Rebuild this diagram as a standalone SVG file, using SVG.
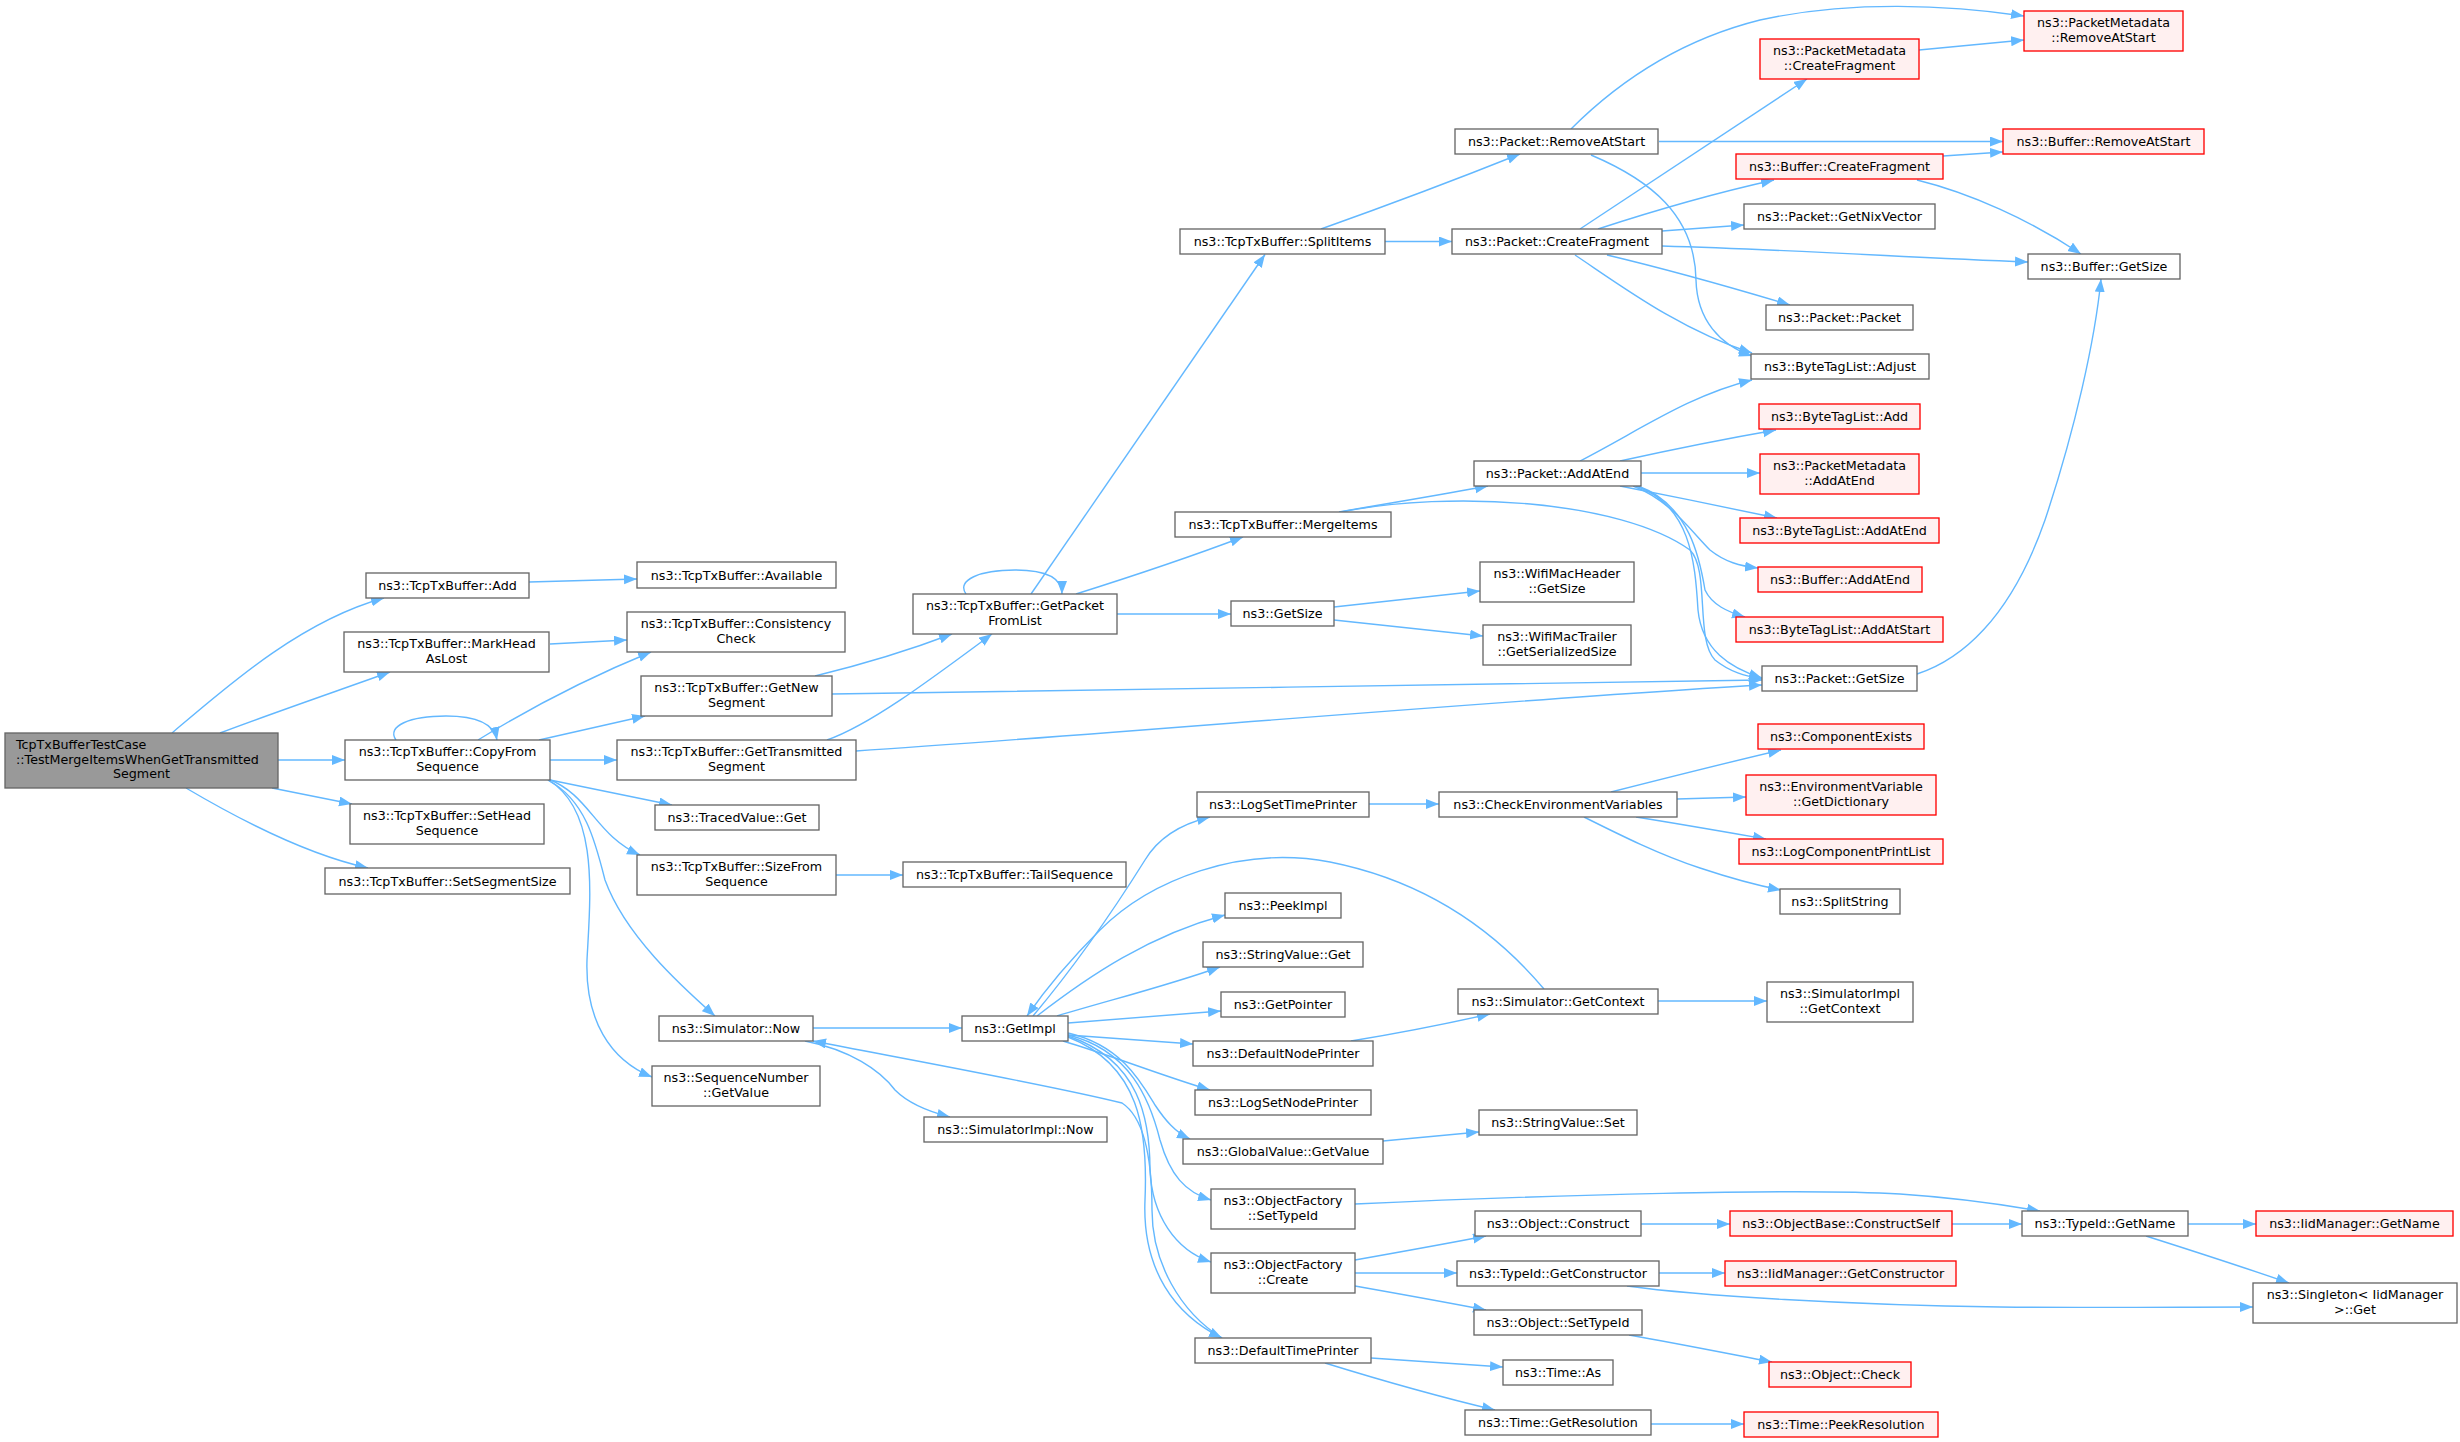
<svg xmlns="http://www.w3.org/2000/svg" width="2460" height="1442" viewBox="0 0 2460 1442">
<style>
text{font-family:"DejaVu Sans","Liberation Sans",sans-serif;font-size:12.7px;text-anchor:middle;fill:#000}
.n rect{fill:#fff;stroke:#666;stroke-width:1.33}
.r rect{fill:#fff0f0;stroke:#f00;stroke-width:1.33}
.m rect{fill:#999;stroke:#666;stroke-width:1.33}
#edges path{fill:none;stroke:#63b8ff;stroke-width:1.4;marker-end:url(#ah)}
</style>
<defs>
<marker id="ah" markerUnits="userSpaceOnUse" markerWidth="14" markerHeight="11" refX="13" refY="5" orient="auto"><path d="M0,0 L13,5 L0,10 z" fill="#63b8ff"/></marker>
</defs>
<rect width="2460" height="1442" fill="#fff"/>
<g id="edges">
<path d="M172,733 C225,688 300,621 384,598"/>
<path d="M220,733 C270,714 340,690 390,672"/>
<path d="M278,760 L345,760"/>
<path d="M272,788 L352,804"/>
<path d="M186,788 C230,814 300,853 368,868"/>
<path d="M529,582 L637,579"/>
<path d="M550,644 L627,640"/>
<path d="M396,740 C386,726 410,716 446,716 C476,716 494,724 497,740"/>
<path d="M478,740 C530,708 590,677 651,652"/>
<path d="M539,740 L645,716"/>
<path d="M550,760 L617,760"/>
<path d="M550,780 L672,805"/>
<path d="M548,779 C590,795 595,835 640,855"/>
<path d="M548,780 C585,800 595,840 605,880 C625,935 680,985 715,1016"/>
<path d="M548,780 C600,810 590,900 587,960 C585,1020 610,1060 652,1077"/>
<path d="M815,676 C860,665 910,650 952,634"/>
<path d="M832,694 C1100,690 1500,684 1762,680"/>
<path d="M827,740 C870,725 930,680 992,634"/>
<path d="M856,751 C1100,735 1500,700 1762,685"/>
<path d="M966,594 C956,580 980,570 1015,570 C1045,570 1062,578 1062,594"/>
<path d="M1031,594 L1265,254.5"/>
<path d="M1076,594 C1130,577 1190,557 1243,537"/>
<path d="M1117,614 L1231,614"/>
<path d="M836,875 L903,875"/>
<path d="M813,1028 L962,1028"/>
<path d="M805,1041 C850,1050 880,1070 895,1090 C910,1105 930,1112 950,1117"/>
<path d="M1222,1338 C1180,1312 1152,1262 1152,1210 C1152,1160 1145,1118 1122,1103 C1050,1085 900,1058 813,1041"/>
<path d="M1321,229 C1380,208 1460,178 1520,154"/>
<path d="M1385,241.5 L1452,241.5"/>
<path d="M1339,512 C1390,503 1440,495 1488,486"/>
<path d="M1341,512 C1450,490 1620,500 1690,550 C1710,570 1695,640 1715,660 C1730,672 1745,676 1762,679"/>
<path d="M1334,607 L1480,591"/>
<path d="M1334,620 L1483,636"/>
<path d="M1571,129 C1620,80 1680,40 1760,20 C1850,0 1950,5 2024,16"/>
<path d="M1659,141.5 L2003,141.5"/>
<path d="M1591,155 C1650,180 1695,215 1696,280 C1697,320 1720,345 1752,356"/>
<path d="M1580,229 L1807,79"/>
<path d="M1598,229 C1650,212 1720,192 1774,180"/>
<path d="M1662,231 L1744,225"/>
<path d="M1662,246 C1800,250 1900,257 2028,262"/>
<path d="M1607,255 C1670,270 1740,290 1790,305"/>
<path d="M1575,255 C1620,285 1680,330 1752,353"/>
<path d="M1919,50 L2024,40"/>
<path d="M1943,156 L2003,152"/>
<path d="M1917,180 C1970,193 2030,220 2081,254"/>
<path d="M1580,461 C1640,430 1690,395 1752,380"/>
<path d="M1620,461 C1670,450 1730,438 1776,430"/>
<path d="M1641,473 L1760,473"/>
<path d="M1620,486 C1670,496 1730,508 1777,518"/>
<path d="M1633,486 C1670,500 1690,530 1710,550 C1725,562 1740,566 1758,568"/>
<path d="M1638,486 C1690,505 1700,560 1705,590 C1712,605 1728,612 1745,617"/>
<path d="M1636,486 C1690,505 1695,560 1698,610 C1702,650 1730,668 1762,678"/>
<path d="M1917,674 C1960,660 2010,620 2045,520 C2075,430 2095,340 2101,279"/>
<path d="M1033,1016 C1080,960 1120,900 1145,860 C1160,835 1185,823 1210,817"/>
<path d="M1544,989 C1490,925 1420,880 1330,862 C1240,845 1150,880 1100,930 C1070,960 1045,990 1027,1016"/>
<path d="M1037,1016 C1090,975 1150,935 1225,915"/>
<path d="M1057,1016 C1110,1000 1170,985 1220,967"/>
<path d="M1068,1023 L1221,1011"/>
<path d="M1068,1035 L1193,1044"/>
<path d="M1063,1041 C1110,1055 1160,1075 1210,1090"/>
<path d="M1068,1033 C1120,1045 1140,1080 1155,1105 C1165,1120 1175,1132 1190,1139"/>
<path d="M1068,1035 C1130,1050 1150,1100 1160,1140 C1170,1175 1185,1192 1211,1200"/>
<path d="M1068,1036 C1140,1060 1150,1120 1150,1170 C1152,1215 1175,1250 1211,1262"/>
<path d="M1068,1037 C1140,1065 1148,1130 1145,1200 C1142,1270 1175,1315 1222,1338"/>
<path d="M1351,1041 C1400,1033 1450,1023 1490,1014"/>
<path d="M1658,1001 L1767,1001"/>
<path d="M1369,804 L1439,804"/>
<path d="M1611,792 C1670,777 1730,762 1781,750"/>
<path d="M1677,799 L1746,797"/>
<path d="M1636,817 C1680,824 1720,831 1766,839"/>
<path d="M1584,817 C1620,835 1660,855 1700,868 C1730,878 1755,885 1781,890"/>
<path d="M1383,1141 L1479,1132"/>
<path d="M1355,1204 C1550,1195 1800,1188 1900,1194 C1960,1198 2000,1204 2040,1211"/>
<path d="M1355,1260 C1400,1252 1445,1244 1486,1236"/>
<path d="M1355,1273 L1457,1273"/>
<path d="M1355,1286 C1400,1294 1445,1302 1486,1310"/>
<path d="M1641,1224 L1730,1224"/>
<path d="M1952,1224 L2022,1224"/>
<path d="M1659,1273 L1725,1273"/>
<path d="M1627,1286 C1700,1296 1850,1305 2000,1307 C2100,1308 2180,1307 2253,1307"/>
<path d="M1629,1335 C1680,1344 1730,1354 1772,1362"/>
<path d="M2188,1224 L2256,1224"/>
<path d="M2146,1236 C2190,1250 2240,1266 2289,1283"/>
<path d="M1371,1358 L1503,1367"/>
<path d="M1325,1363 C1380,1380 1440,1397 1495,1410"/>
<path d="M1651,1424 L1744,1424"/>
</g>
<g id="n_main" class="m"><rect x="5" y="733" width="273" height="55"/><text x="16" y="749" style="text-anchor:start">TcpTxBufferTestCase</text><text x="16" y="763.5" style="text-anchor:start">::TestMergeItemsWhenGetTransmitted</text><text x="141.5" y="778">Segment</text></g>
<g id="n_add" class="n"><rect x="366" y="573" width="163" height="25"/><text x="447.5" y="590">ns3::TcpTxBuffer::Add</text></g>
<g id="n_mark" class="n"><rect x="344" y="632" width="205" height="40"/><text x="446.5" y="648">ns3::TcpTxBuffer::MarkHead</text><text x="446.5" y="663">AsLost</text></g>
<g id="n_copy" class="n"><rect x="345" y="740" width="205" height="40"/><text x="447.5" y="756">ns3::TcpTxBuffer::CopyFrom</text><text x="447.5" y="771">Sequence</text></g>
<g id="n_sethead" class="n"><rect x="350" y="804" width="194" height="40"/><text x="447" y="820">ns3::TcpTxBuffer::SetHead</text><text x="447" y="835">Sequence</text></g>
<g id="n_segsize" class="n"><rect x="325" y="868" width="245" height="26"/><text x="447.5" y="885.5">ns3::TcpTxBuffer::SetSegmentSize</text></g>
<g id="n_avail" class="n"><rect x="637" y="562" width="199" height="26"/><text x="736.5" y="579.5">ns3::TcpTxBuffer::Available</text></g>
<g id="n_consist" class="n"><rect x="627" y="612" width="218" height="40"/><text x="736" y="628">ns3::TcpTxBuffer::Consistency</text><text x="736" y="643">Check</text></g>
<g id="n_getnew" class="n"><rect x="641" y="676" width="191" height="40"/><text x="736.5" y="692">ns3::TcpTxBuffer::GetNew</text><text x="736.5" y="707">Segment</text></g>
<g id="n_gettrans" class="n"><rect x="617" y="740" width="239" height="40"/><text x="736.5" y="756">ns3::TcpTxBuffer::GetTransmitted</text><text x="736.5" y="771">Segment</text></g>
<g id="n_traced" class="n"><rect x="655" y="805" width="164" height="25"/><text x="737" y="822">ns3::TracedValue::Get</text></g>
<g id="n_sizefrom" class="n"><rect x="637" y="855" width="199" height="40"/><text x="736.5" y="871">ns3::TcpTxBuffer::SizeFrom</text><text x="736.5" y="886">Sequence</text></g>
<g id="n_simnow" class="n"><rect x="659" y="1016" width="154" height="25"/><text x="736" y="1033">ns3::Simulator::Now</text></g>
<g id="n_seqval" class="n"><rect x="652" y="1066" width="168" height="40"/><text x="736" y="1082">ns3::SequenceNumber</text><text x="736" y="1097">::GetValue</text></g>
<g id="n_getpkt" class="n"><rect x="913" y="594" width="204" height="40"/><text x="1015" y="610">ns3::TcpTxBuffer::GetPacket</text><text x="1015" y="625">FromList</text></g>
<g id="n_tail" class="n"><rect x="903" y="862" width="223" height="25"/><text x="1014.5" y="879">ns3::TcpTxBuffer::TailSequence</text></g>
<g id="n_getimpl" class="n"><rect x="962" y="1016" width="106" height="25"/><text x="1015" y="1033">ns3::GetImpl</text></g>
<g id="n_simimplnow" class="n"><rect x="924" y="1117" width="183" height="25"/><text x="1015.5" y="1134">ns3::SimulatorImpl::Now</text></g>
<g id="n_split" class="n"><rect x="1180" y="229" width="205" height="25"/><text x="1282.5" y="246">ns3::TcpTxBuffer::SplitItems</text></g>
<g id="n_merge" class="n"><rect x="1175" y="512" width="216" height="25"/><text x="1283" y="529">ns3::TcpTxBuffer::MergeItems</text></g>
<g id="n_getsize" class="n"><rect x="1231" y="601" width="103" height="25"/><text x="1282.5" y="618">ns3::GetSize</text></g>
<g id="n_logtime" class="n"><rect x="1197" y="792" width="172" height="25"/><text x="1283" y="809">ns3::LogSetTimePrinter</text></g>
<g id="n_peek" class="n"><rect x="1225" y="893" width="116" height="25"/><text x="1283" y="910">ns3::PeekImpl</text></g>
<g id="n_strget" class="n"><rect x="1203" y="942" width="160" height="25"/><text x="1283" y="959">ns3::StringValue::Get</text></g>
<g id="n_getptr" class="n"><rect x="1221" y="992" width="124" height="25"/><text x="1283" y="1009">ns3::GetPointer</text></g>
<g id="n_defnode" class="n"><rect x="1193" y="1041" width="180" height="25"/><text x="1283" y="1058">ns3::DefaultNodePrinter</text></g>
<g id="n_lognode" class="n"><rect x="1195" y="1090" width="176" height="25"/><text x="1283" y="1107">ns3::LogSetNodePrinter</text></g>
<g id="n_gvget" class="n"><rect x="1183" y="1139" width="200" height="25"/><text x="1283" y="1156">ns3::GlobalValue::GetValue</text></g>
<g id="n_ofset" class="n"><rect x="1211" y="1189" width="144" height="40"/><text x="1283" y="1205">ns3::ObjectFactory</text><text x="1283" y="1220">::SetTypeId</text></g>
<g id="n_ofcreate" class="n"><rect x="1211" y="1253" width="144" height="40"/><text x="1283" y="1269">ns3::ObjectFactory</text><text x="1283" y="1284">::Create</text></g>
<g id="n_deftime" class="n"><rect x="1195" y="1338" width="176" height="25"/><text x="1283" y="1355">ns3::DefaultTimePrinter</text></g>
<g id="n_pktremove" class="n"><rect x="1455" y="129" width="203" height="25"/><text x="1556.5" y="146">ns3::Packet::RemoveAtStart</text></g>
<g id="n_pktfrag" class="n"><rect x="1452" y="229" width="210" height="25"/><text x="1557" y="246">ns3::Packet::CreateFragment</text></g>
<g id="n_pktaddend" class="n"><rect x="1474" y="461" width="167" height="25"/><text x="1557.5" y="478">ns3::Packet::AddAtEnd</text></g>
<g id="n_wifihdr" class="n"><rect x="1480" y="562" width="154" height="40"/><text x="1557" y="578">ns3::WifiMacHeader</text><text x="1557" y="593">::GetSize</text></g>
<g id="n_wifitrl" class="n"><rect x="1483" y="625" width="148" height="40"/><text x="1557" y="641">ns3::WifiMacTrailer</text><text x="1557" y="656">::GetSerializedSize</text></g>
<g id="n_checkenv" class="n"><rect x="1439" y="792" width="238" height="25"/><text x="1558" y="809">ns3::CheckEnvironmentVariables</text></g>
<g id="n_simctx" class="n"><rect x="1458" y="989" width="200" height="25"/><text x="1558" y="1006">ns3::Simulator::GetContext</text></g>
<g id="n_strset" class="n"><rect x="1479" y="1110" width="158" height="25"/><text x="1558" y="1127">ns3::StringValue::Set</text></g>
<g id="n_objcons" class="n"><rect x="1475" y="1211" width="166" height="25"/><text x="1558" y="1228">ns3::Object::Construct</text></g>
<g id="n_getctor" class="n"><rect x="1457" y="1261" width="202" height="25"/><text x="1558" y="1278">ns3::TypeId::GetConstructor</text></g>
<g id="n_objsettid" class="n"><rect x="1474" y="1310" width="168" height="25"/><text x="1558" y="1327">ns3::Object::SetTypeId</text></g>
<g id="n_timeas" class="n"><rect x="1503" y="1360" width="110" height="25"/><text x="1558" y="1377">ns3::Time::As</text></g>
<g id="n_getres" class="n"><rect x="1465" y="1410" width="186" height="25"/><text x="1558" y="1427">ns3::Time::GetResolution</text></g>
<g id="n_pmfrag" class="r"><rect x="1760" y="39" width="159" height="40"/><text x="1839.5" y="55">ns3::PacketMetadata</text><text x="1839.5" y="70">::CreateFragment</text></g>
<g id="n_buffrag" class="r"><rect x="1736" y="154" width="207" height="25"/><text x="1839.5" y="171">ns3::Buffer::CreateFragment</text></g>
<g id="n_nix" class="n"><rect x="1744" y="204" width="191" height="25"/><text x="1839.5" y="221">ns3::Packet::GetNixVector</text></g>
<g id="n_pkt" class="n"><rect x="1766" y="305" width="147" height="25"/><text x="1839.5" y="322">ns3::Packet::Packet</text></g>
<g id="n_adjust" class="n"><rect x="1751" y="354" width="178" height="25"/><text x="1840" y="371">ns3::ByteTagList::Adjust</text></g>
<g id="n_btladd" class="r"><rect x="1759" y="404" width="161" height="25"/><text x="1839.5" y="421">ns3::ByteTagList::Add</text></g>
<g id="n_pmaddend" class="r"><rect x="1760" y="454" width="159" height="40"/><text x="1839.5" y="470">ns3::PacketMetadata</text><text x="1839.5" y="485">::AddAtEnd</text></g>
<g id="n_btladdend" class="r"><rect x="1740" y="518" width="199" height="25"/><text x="1839.5" y="535">ns3::ByteTagList::AddAtEnd</text></g>
<g id="n_bufaddend" class="r"><rect x="1758" y="567" width="164" height="25"/><text x="1840" y="584">ns3::Buffer::AddAtEnd</text></g>
<g id="n_btladdstart" class="r"><rect x="1736" y="617" width="207" height="25"/><text x="1839.5" y="634">ns3::ByteTagList::AddAtStart</text></g>
<g id="n_pktgetsize" class="n"><rect x="1762" y="666" width="155" height="25"/><text x="1839.5" y="683">ns3::Packet::GetSize</text></g>
<g id="n_compexists" class="r"><rect x="1758" y="724" width="166" height="25"/><text x="1841" y="741">ns3::ComponentExists</text></g>
<g id="n_envdict" class="r"><rect x="1746" y="775" width="190" height="40"/><text x="1841" y="791">ns3::EnvironmentVariable</text><text x="1841" y="806">::GetDictionary</text></g>
<g id="n_logcomp" class="r"><rect x="1739" y="839" width="204" height="25"/><text x="1841" y="856">ns3::LogComponentPrintList</text></g>
<g id="n_splitstr" class="n"><rect x="1780" y="889" width="120" height="25"/><text x="1840" y="906">ns3::SplitString</text></g>
<g id="n_implctx" class="n"><rect x="1767" y="982" width="146" height="40"/><text x="1840" y="998">ns3::SimulatorImpl</text><text x="1840" y="1013">::GetContext</text></g>
<g id="n_consself" class="r"><rect x="1730" y="1211" width="222" height="25"/><text x="1841" y="1228">ns3::ObjectBase::ConstructSelf</text></g>
<g id="n_iidctor" class="r"><rect x="1725" y="1261" width="231" height="25"/><text x="1840.5" y="1278">ns3::IidManager::GetConstructor</text></g>
<g id="n_objcheck" class="r"><rect x="1769" y="1362" width="142" height="25"/><text x="1840" y="1379">ns3::Object::Check</text></g>
<g id="n_peekres" class="r"><rect x="1744" y="1412" width="194" height="25"/><text x="1841" y="1429">ns3::Time::PeekResolution</text></g>
<g id="n_pmremove" class="r"><rect x="2024" y="11" width="159" height="40"/><text x="2103.5" y="27">ns3::PacketMetadata</text><text x="2103.5" y="42">::RemoveAtStart</text></g>
<g id="n_bufremove" class="r"><rect x="2003" y="129" width="201" height="25"/><text x="2103.5" y="146">ns3::Buffer::RemoveAtStart</text></g>
<g id="n_bufgetsize" class="n"><rect x="2028" y="254" width="152" height="25"/><text x="2104" y="271">ns3::Buffer::GetSize</text></g>
<g id="n_tidname" class="n"><rect x="2022" y="1211" width="166" height="25"/><text x="2105" y="1228">ns3::TypeId::GetName</text></g>
<g id="n_iidname" class="r"><rect x="2256" y="1211" width="197" height="25"/><text x="2354.5" y="1228">ns3::IidManager::GetName</text></g>
<g id="n_singleton" class="n"><rect x="2253" y="1283" width="204" height="40"/><text x="2355" y="1299">ns3::Singleton&lt; IidManager</text><text x="2355" y="1314">&gt;::Get</text></g>
</svg>
